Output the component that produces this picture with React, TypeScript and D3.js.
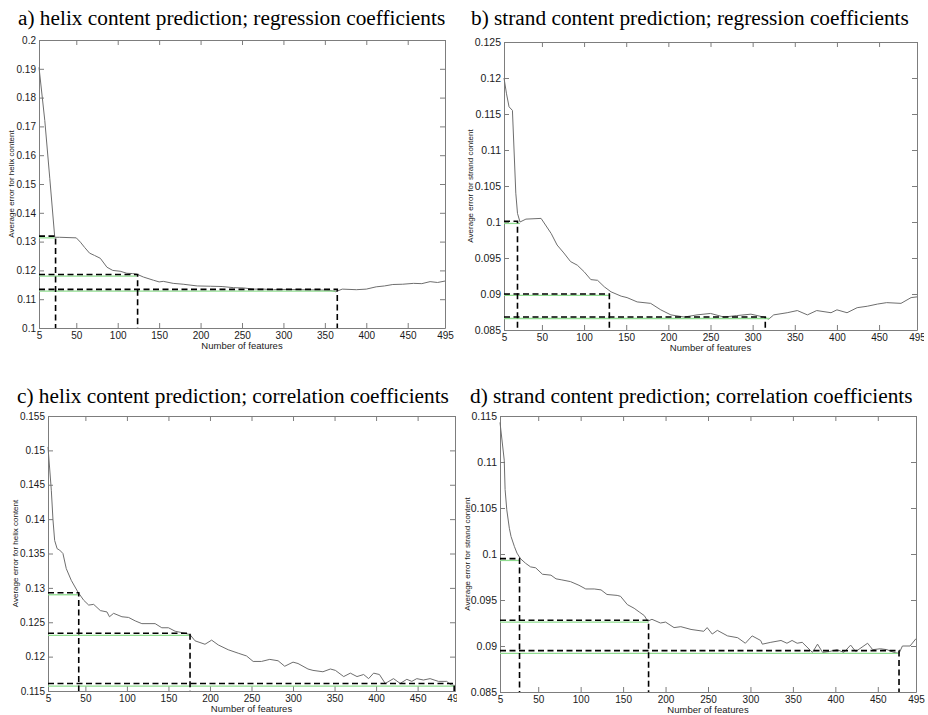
import React, { useEffect, useRef } from "react";
import * as d3 from "d3";

// x ticks, shared by all four panels
const featureTicks = [5, 50, 100, 150, 200, 250, 300, 350, 400, 450, 495];

// y tick labels per panel
const helixRegTicks = [0.1, 0.11, 0.12, 0.13, 0.14, 0.15, 0.16, 0.17, 0.18, 0.19, 0.2];
const strandRegTicks = [0.085, 0.09, 0.095, 0.1, 0.105, 0.11, 0.115, 0.12, 0.125];
const helixCorTicks = [0.115, 0.12, 0.125, 0.13, 0.135, 0.14, 0.145, 0.15, 0.155];
const strandCorTicks = [0.085, 0.09, 0.095, 0.1, 0.105, 0.11, 0.115];

// [number of features, average error]
const helixRegError = [
  [5, 0.1905], [12, 0.172], [18, 0.152], [24, 0.1315], [30, 0.1315], [40, 0.1314], [50, 0.1313],
  [55, 0.1298], [60, 0.128], [66, 0.126], [72, 0.1252], [79, 0.1242], [87, 0.1211], [94, 0.12],
  [103, 0.1197], [111, 0.119], [118, 0.1189], [123, 0.1187], [131, 0.1177], [143, 0.1166],
  [150, 0.116], [155, 0.1162], [167, 0.1155], [179, 0.1152], [196, 0.1146], [212, 0.1145],
  [226, 0.1144], [240, 0.114], [252, 0.1139], [264, 0.1135], [276, 0.1135], [288, 0.1133],
  [304, 0.1134], [320, 0.1133], [344, 0.1132], [356, 0.1131], [363, 0.1126], [371, 0.1135],
  [388, 0.1133], [400, 0.1135], [412, 0.1143], [422, 0.1146], [432, 0.1151], [444, 0.1152],
  [457, 0.1155], [467, 0.1154], [477, 0.1161], [486, 0.1158], [495, 0.1163],
];
const helixRegCut = [25, 124, 365];
const helixRegLevel = [0.1319, 0.1186, 0.1134];
const helixRegMin = [0.1313, 0.118, 0.1128];
const helixRegMinEnd = [24, 123, 363];

const strandRegError = [
  [5, 0.12], [8, 0.1178], [11, 0.116], [15, 0.1155], [19, 0.104], [21, 0.1012], [24, 0.1],
  [31, 0.1004], [49, 0.1005], [61, 0.0984], [68, 0.0968], [76, 0.0957], [84, 0.0945],
  [92, 0.094], [100, 0.0931], [108, 0.092], [116, 0.0919], [124, 0.091], [132, 0.0903],
  [144, 0.0897], [151, 0.0895], [163, 0.0889], [179, 0.0887], [191, 0.0878], [203, 0.0871],
  [219, 0.0868], [234, 0.0871], [250, 0.0873], [266, 0.0868], [281, 0.087], [298, 0.0872],
  [313, 0.0868], [319, 0.0865], [325, 0.0871], [341, 0.0874], [353, 0.0877], [365, 0.0871],
  [376, 0.0877], [393, 0.0874], [400, 0.0878], [412, 0.0874], [424, 0.0881], [436, 0.0883],
  [448, 0.0886], [459, 0.0888], [476, 0.0887], [488, 0.0895], [495, 0.0896],
];
const strandRegCut = [21, 130, 315];
const strandRegLevel = [0.1001, 0.09, 0.0868];
const strandRegMin = [0.0998, 0.0898, 0.0866];
const strandRegMinEnd = [24, 131, 320];

const helixCorError = [
  [5, 0.1505], [9, 0.1442], [11, 0.1399], [13, 0.1369], [16, 0.1357], [19, 0.1355], [23, 0.135],
  [27, 0.1328], [33, 0.1311], [41, 0.1294], [48, 0.1282], [54, 0.1275], [60, 0.1276],
  [68, 0.1267], [76, 0.1265], [79, 0.1258], [84, 0.1263], [94, 0.1258], [102, 0.1257],
  [110, 0.1252], [118, 0.1248], [134, 0.1248], [142, 0.1242], [150, 0.1242], [158, 0.1237],
  [170, 0.1234], [176, 0.1232], [182, 0.1223], [194, 0.1218], [202, 0.1224], [210, 0.1217],
  [222, 0.121], [234, 0.1205], [244, 0.1201], [252, 0.1193], [262, 0.1193], [272, 0.1196],
  [282, 0.1194], [290, 0.1186], [300, 0.1192], [306, 0.119], [318, 0.1182], [324, 0.118],
  [336, 0.1178], [345, 0.1182], [351, 0.118], [361, 0.1171], [369, 0.1176], [377, 0.1171],
  [385, 0.1174], [391, 0.1168], [397, 0.1176], [404, 0.1174], [411, 0.1161], [421, 0.1168],
  [429, 0.1161], [437, 0.1167], [443, 0.1164], [449, 0.1168], [457, 0.1166], [465, 0.1168],
  [475, 0.1164], [485, 0.1164], [490, 0.1159], [495, 0.1158],
];
const helixCorCut = [42, 176, 494];
const helixCorLevel = [0.1293, 0.1234, 0.1161];
const helixCorMin = [0.129, 0.1231, 0.1157];
const helixCorMinEnd = [42, 176, 495];

const strandCorError = [
  [5, 0.1143], [10, 0.1102], [11, 0.107], [13, 0.1048], [16, 0.1028], [18, 0.1019], [22, 0.1008],
  [25, 0.1001], [29, 0.0995], [35, 0.099], [41, 0.0986], [47, 0.0985], [55, 0.0978],
  [65, 0.0977], [71, 0.0973], [77, 0.0972], [88, 0.097], [98, 0.0966], [106, 0.0962],
  [116, 0.0962], [124, 0.0961], [131, 0.0956], [143, 0.0955], [147, 0.0954], [155, 0.0945],
  [163, 0.0941], [169, 0.0937], [175, 0.0933], [179, 0.0927], [184, 0.0929], [194, 0.0925],
  [200, 0.0926], [210, 0.092], [218, 0.0921], [230, 0.0918], [245, 0.0916], [249, 0.092],
  [255, 0.0913], [261, 0.0917], [273, 0.0911], [285, 0.0909], [294, 0.0903], [302, 0.0911],
  [312, 0.0906], [314, 0.0902], [324, 0.0904], [336, 0.0906], [343, 0.0903], [349, 0.0906],
  [355, 0.0903], [361, 0.0904], [373, 0.0893], [379, 0.0902], [385, 0.0893], [393, 0.0894],
  [402, 0.0896], [410, 0.0893], [418, 0.0901], [424, 0.0894], [438, 0.0903], [444, 0.0896],
  [453, 0.0897], [461, 0.0896], [469, 0.0893], [475, 0.0892], [479, 0.09], [488, 0.09],
  [495, 0.0908],
];
const strandCorCut = [28, 180, 475];
const strandCorLevel = [0.0995, 0.0928, 0.0895];
const strandCorMin = [0.0993, 0.0926, 0.0892];
const strandCorMinEnd = [28, 180, 475];

const panels = [
  {
    title: "a) helix content prediction; regression coefficients",
    yLabel: "Average error for helix content",
    curve: helixRegError, yTicks: helixRegTicks,
    cut: helixRegCut, level: helixRegLevel, min: helixRegMin, minEnd: helixRegMinEnd,
    left: 39, right: 445, top: 40, bottom: 328, titleX: 18, titleY: 25, yLabelX: 11,
    tickFont: 10, clipRight: null,
  },
  {
    title: "b) strand content prediction; regression coefficients",
    yLabel: "Average error for strand content",
    curve: strandRegError, yTicks: strandRegTicks,
    cut: strandRegCut, level: strandRegLevel, min: strandRegMin, minEnd: strandRegMinEnd,
    left: 504, right: 917, top: 42, bottom: 330, titleX: 471, titleY: 25, yLabelX: 470,
    tickFont: 10.5, clipRight: 924,
  },
  {
    title: "c) helix content prediction; correlation coefficients",
    yLabel: "Average error for helix content",
    curve: helixCorError, yTicks: helixCorTicks,
    cut: helixCorCut, level: helixCorLevel, min: helixCorMin, minEnd: helixCorMinEnd,
    left: 48, right: 455, top: 416, bottom: 691, titleX: 17, titleY: 403, yLabelX: 15,
    tickFont: 10, clipRight: 457,
  },
  {
    title: "d) strand content prediction; correlation coefficients",
    yLabel: "Average error for strand content",
    curve: strandCorError, yTicks: strandCorTicks,
    cut: strandCorCut, level: strandCorLevel, min: strandCorMin, minEnd: strandCorMinEnd,
    left: 500, right: 916, top: 416, bottom: 692, titleX: 470, titleY: 403, yLabelX: 467,
    tickFont: 10.5, clipRight: null,
  },
];

const sans = "'Liberation Sans', Arial, sans-serif";
const frameColor = "#7d7d7d";

function styleAxis(sel: any, size = 10) {
  sel.attr("font-family", sans).attr("font-size", size);
  sel.selectAll("path, line").attr("stroke", frameColor);
  sel.selectAll("text").attr("fill", "#1a1a1a");
}

function drawPanel(svg: any, p: any, idx: number) {
  const x = d3.scaleLinear().domain([5, 495]).range([p.left, p.right]);
  const y = d3
    .scaleLinear()
    .domain([p.yTicks[0], p.yTicks[p.yTicks.length - 1]])
    .range([p.bottom, p.top]);

  const g = svg.append("g");
  if (p.clipRight) {
    const id = "clip-" + idx;
    svg.append("clipPath").attr("id", id)
      .append("rect").attr("x", p.left - 60).attr("y", p.top - 40)
      .attr("width", p.clipRight - p.left + 60).attr("height", p.bottom - p.top + 80);
    g.attr("clip-path", `url(#${id})`);
  }

  g.append("text")
    .attr("x", p.titleX).attr("y", p.titleY)
    .attr("font-family", "'Liberation Serif', 'Times New Roman', serif")
    .attr("font-size", 21.3)
    .attr("fill", "#000")
    .text(p.title);

  // box with inward ticks on all four sides (matlab style)
  g.append("g").attr("transform", `translate(0,${p.bottom})`)
    .call(d3.axisBottom(x).tickValues(featureTicks).tickSize(-5).tickSizeOuter(0).tickPadding(3.5).tickFormat(d3.format("d")))
    .call(styleAxis);
  g.append("g").attr("transform", `translate(0,${p.top})`)
    .call(d3.axisTop(x).tickValues(featureTicks).tickSize(-5).tickSizeOuter(0).tickFormat(() => ""))
    .call(styleAxis);
  g.append("g").attr("transform", `translate(${p.left},0)`)
    .call(d3.axisLeft(y).tickValues(p.yTicks).tickSize(-5).tickSizeOuter(0).tickPadding(3).tickFormat((d: any) => String(d)))
    .call(styleAxis, p.tickFont);
  g.append("g").attr("transform", `translate(${p.right},0)`)
    .call(d3.axisRight(y).tickValues(p.yTicks).tickSize(-5).tickSizeOuter(0).tickFormat(() => ""))
    .call(styleAxis);

  g.append("text")
    .attr("x", (p.left + p.right) / 2).attr("y", p.bottom + 21)
    .attr("text-anchor", "middle")
    .attr("font-family", sans).attr("font-size", 9.5).attr("fill", "#1a1a1a")
    .text("Number of features");

  g.append("text")
    .attr("transform", `translate(${p.yLabelX},${(p.top + p.bottom) / 2}) rotate(-90)`)
    .attr("text-anchor", "middle")
    .attr("dy", "0.35em")
    .attr("font-family", sans).attr("font-size", 8).attr("fill", "#1a1a1a")
    .text(p.yLabel);

  const line = d3.line().x((d: any) => x(d[0])).y((d: any) => y(d[1]));
  g.append("path")
    .datum(p.curve)
    .attr("d", line)
    .attr("fill", "none")
    .attr("stroke", "#6e6e6e")
    .attr("stroke-width", 1);

  // green = level reached, dashed = chosen cut-off
  p.min.forEach((v: number, i: number) => {
    g.append("line")
      .attr("x1", x(5)).attr("x2", x(p.minEnd[i]))
      .attr("y1", y(v)).attr("y2", y(v))
      .attr("stroke", "#8fdc8f").attr("stroke-width", 1.3);
  });
  p.level.forEach((v: number, i: number) => {
    g.append("path")
      .attr("d", `M${x(5)},${y(v)}H${x(p.cut[i])}V${p.bottom}`)
      .attr("fill", "none")
      .attr("stroke", "#000").attr("stroke-width", 1.6)
      .attr("stroke-dasharray", "6,3.5");
  });
}

export default function App() {
  const ref = useRef<SVGSVGElement>(null);

  useEffect(() => {
    const svg = d3.select(ref.current);
    svg.selectAll("*").remove();
    panels.forEach((p, i) => drawPanel(svg, p, i));
  }, []);

  return (
    <div style={{ position: "absolute", left: 0, top: 0, background: "#fff" }}>
      <svg ref={ref} width={928} height={715} style={{ display: "block" }} />
    </div>
  );
}
